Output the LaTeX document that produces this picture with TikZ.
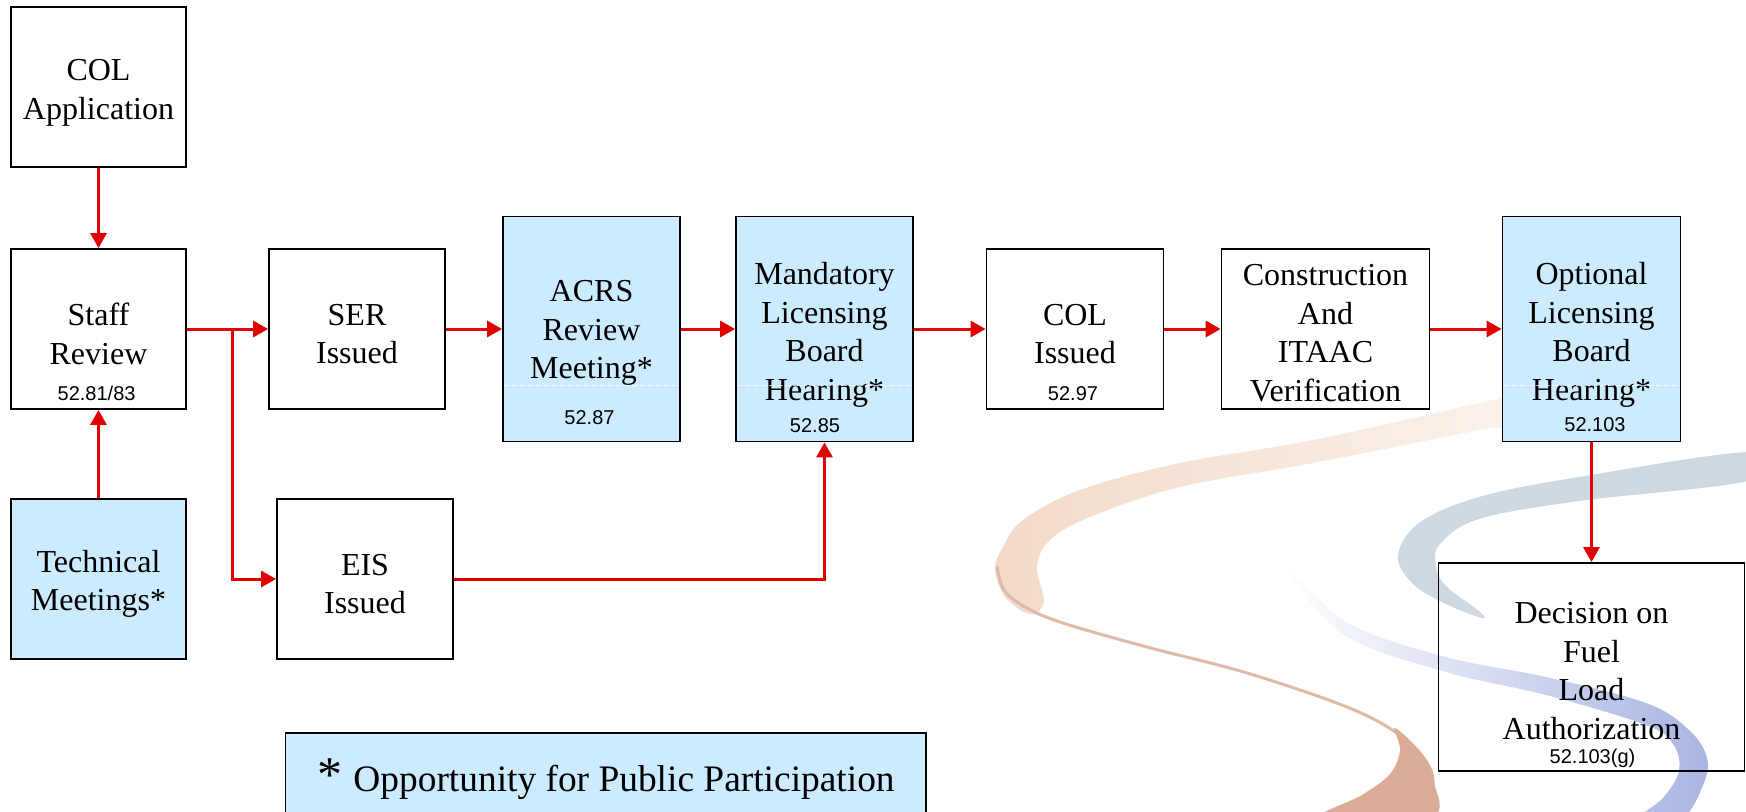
\documentclass[tikz,border=0pt]{standalone}
\usepackage{fontspec}
\setmainfont{Liberation Serif}
\newfontfamily\refsans{Liberation Sans}
\usetikzlibrary{arrows.meta}
\definecolor{flowred}{RGB}{224,0,0}
\definecolor{pubblue}{RGB}{204,235,255}
\definecolor{peach}{RGB}{243,218,200}
\definecolor{rust}{RGB}{222,186,168}
\definecolor{rustend}{RGB}{218,172,150}
\definecolor{steel}{RGB}{205,216,225}
\definecolor{lavender}{RGB}{168,181,226}
\begin{document}
\begin{tikzpicture}[x=0.5pt,y=-0.5pt,
  stage/.style={draw=black, line width=0.9pt, fill=white, inner sep=0pt},
  public/.style={stage, fill=pubblue},
  stagetext/.style={inner sep=0pt, align=center, font=\fontsize{16}{19.25}\selectfont},
  refno/.style={inner sep=0pt, anchor=base, font=\refsans\fontsize{10}{12}\selectfont},
  flow/.style={draw=flowred, line width=1.5pt, -{Triangle[length=7.5pt,width=8pt]}},
  seam/.style={draw=white, line width=0.5pt, opacity=0.7, dash pattern=on 3pt off 1pt},
]
\useasboundingbox (0,0) rectangle (1746,811);

% decorative background swooshes
\shade[left color=peach, right color=peach!35]
  plot[smooth cycle, tension=0.6] coordinates {(1505,398) (1480,403) (1313,440) (1180,463)
    (1080,490) (1023,520) (1003,547) (995,570) (1006,598) (1030,614) (1044,602)
    (1037,567) (1050,540) (1090,517) (1180,487) (1313,463) (1480,430) (1505,426)};
\draw[rust, line width=1.5pt]
  plot[smooth, tension=0.6] coordinates {(997,566) (1004,590) (1025,607) (1063,623)
    (1147,647) (1247,673) (1347,707) (1397,733) (1423,757) (1433,780) (1428,815)};
\fill[rustend]
  plot[smooth cycle, tension=0.6] coordinates {(1395,728) (1423,755) (1434,782) (1430,818)
    (1322,818) (1362,795) (1390,774) (1400,750)};
\fill[steel]
  plot[smooth cycle, tension=0.6] coordinates {(1752,452) (1579,477) (1479,497) (1419,523)
    (1398,556) (1413,584) (1446,604) (1482,618) (1479,611) (1446,586) (1436,566)
    (1440,544) (1479,519) (1579,501) (1752,480)};
\shade[left color=white, right color=lavender]
  plot[smooth cycle, tension=0.6] coordinates {(1289,566) (1346,622) (1446,657) (1546,677)
    (1646,703) (1689,730) (1707,758) (1703,785) (1682,818) (1640,818) (1663,798)
    (1679,771) (1673,744) (1646,725) (1546,695) (1446,672) (1346,636) (1289,575)};

% process stages
\node[stage, minimum width=87.5pt, minimum height=80pt] (colapp) at (98.5,87) {};
\node[stage, minimum width=87.5pt, minimum height=80pt] (staff) at (98.5,329) {};
\node[stage, minimum width=88pt, minimum height=80pt] (ser) at (357,329) {};
\node[public, minimum width=88.5pt, minimum height=112.5pt] (acrs) at (591.5,329) {};
\node[public, minimum width=88.5pt, minimum height=112.5pt] (mand) at (824.5,329) {};
\node[stage, minimum width=88.5pt, minimum height=80pt] (colis) at (1075,329) {};
\node[stage, minimum width=104pt, minimum height=80pt] (constr) at (1325.5,329) {};
\node[public, minimum width=89pt, minimum height=112.5pt] (opt) at (1591.5,329) {};
\node[stage, fill=none, minimum width=153pt, minimum height=104pt] (dec) at (1591.5,667) {};
\node[public, minimum width=87.5pt, minimum height=80pt] (tech) at (98.5,579) {};
\node[stage, minimum width=88pt, minimum height=80pt] (eis) at (365,579) {};

% stage captions
\node[stagetext] (colappt) at (98.5,93) {COL\\Application};
\node[stagetext] (stafft) at (98.5,334) {Staff\\Review};
\node[stagetext] (sert) at (357,334) {SER\\Issued};
\node[stagetext] (acrst) at (591.5,333) {ACRS\\Review\\Meeting*};
\node[stagetext] (mandt) at (824.5,335) {Mandatory\\Licensing\\Board\\Hearing*};
\node[stagetext] (colist) at (1075,334) {COL\\Issued};
\node[stagetext] (constrt) at (1325.5,333) {Construction\\And\\ITAAC\\Verification};
\node[stagetext] (optt) at (1591.5,335) {Optional\\Licensing\\Board\\Hearing*};
\node[stagetext] (dect) at (1591.5,671) {Decision on\\Fuel\\Load\\Authorization};
\node[stagetext] (techt) at (98.5,584) {Technical\\Meetings*};
\node[stagetext] (eist) at (365,584) {EIS\\Issued};

% faint seam across the shaded stages
\coordinate (seamy) at (0,385);
\foreach \b in {acrs,mand,opt}
  \draw[seam] ([xshift=1pt]\b.west |- seamy) -- ([xshift=-1pt]\b.east |- seamy);

% regulation references
\node[refno] (staffref) at (96.6,400.4) {52.81/83};
\node[refno] (acrsref) at (589.5,424.4) {52.87};
\node[refno] (mandref) at (815,432.4) {52.85};
\node[refno] (colisref) at (1073,400.4) {52.97};
\node[refno] (optref) at (1595,431.4) {52.103};
\node[refno] (decref) at (1592.5,763.4) {52.103(g)};

% legend
\node[draw=black, line width=0.9pt, fill=pubblue, minimum width=320.25pt, minimum height=60pt,
  inner sep=0pt] (legend) at (605.75,793) {};
\node[anchor=base west, inner sep=0pt] (legendtext) at (317,791)
  {{\fontsize{25}{28}\selectfont *}\hspace{5.5pt}{\fontsize{18.7}{22}\selectfont Opportunity for Public Participation}};

% connectors
\coordinate (split) at (232,329);
\draw[flow] (colapp) -- (staff);
\draw[flow] (tech) -- (staff);
\draw[flow] (staff) -- (ser);
\draw[flow] (split) |- (eis);
\draw[flow] (ser) -- (acrs);
\draw[flow] (acrs) -- (mand);
\draw[flow] (mand) -- (colis);
\draw[flow] (colis) -- (constr);
\draw[flow] (constr) -- (opt);
\draw[flow] (eis) -| (mand);
\draw[flow] (opt) -- (dec);
\end{tikzpicture}
\end{document}
